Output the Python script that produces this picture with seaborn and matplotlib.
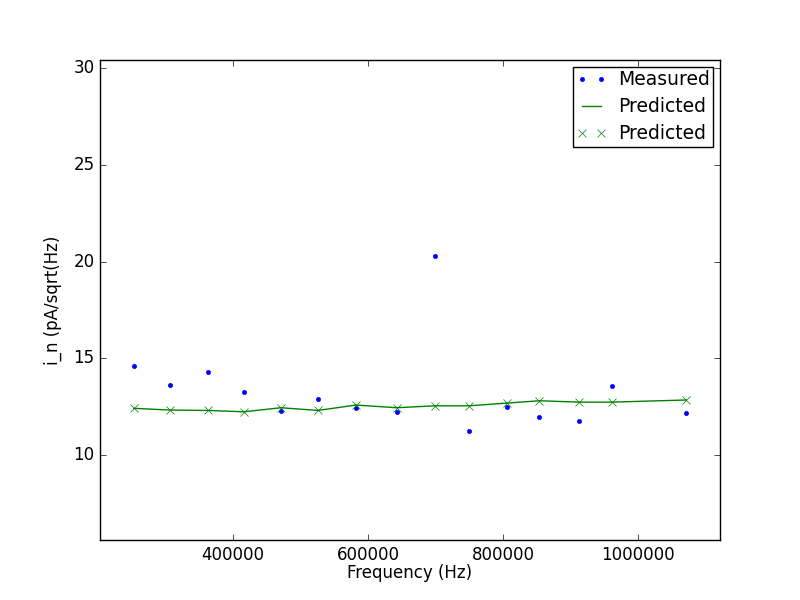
import matplotlib
matplotlib.use("Agg")
import matplotlib.pyplot as plt
import seaborn as sns
import pandas as pd

# valores
freq = [253300, 306700, 363000, 416300, 471100, 525900, 582200, 642500,
        699300, 749600, 805900, 853300, 912600, 961500, 1071100]
measured = [14.59, 13.61, 14.28, 13.25, 12.29, 12.88, 12.42, 12.21,
            20.28, 11.23, 12.47, 11.95, 11.74, 13.56, 12.16]
predicted = [12.42, 12.33, 12.31, 12.24, 12.45, 12.31, 12.59, 12.45,
             12.55, 12.55, 12.69, 12.81, 12.74, 12.74, 12.85]

df = pd.DataFrame({"freq": freq, "measured": measured, "predicted": predicted})

plt.style.use("classic")
fig, ax = plt.subplots(figsize=(8, 6), dpi=100)

sns.lineplot(data=df, x="freq", y="measured", ax=ax, estimator=None,
             color="b", marker=".", linestyle="", markersize=6,
             markeredgecolor="b", markeredgewidth=0.5, label="Measured")
sns.lineplot(data=df, x="freq", y="predicted", ax=ax, estimator=None,
             color="g", linestyle="-", label="Predicted")
sns.lineplot(data=df, x="freq", y="predicted", ax=ax, estimator=None,
             color="g", marker="x", linestyle="", markersize=6,
             markeredgecolor="g", markeredgewidth=0.5, label="Predicted")

ax.set_xlim(df["freq"].min() - 50000, df["freq"].max() + 50000)
ax.set_ylim(0.5 * df["measured"].min(), 1.5 * df["measured"].max())
ax.set_xticks([400000, 600000, 800000, 1000000])
ax.set_yticks([10, 15, 20, 25, 30])
ax.ticklabel_format(axis="x", style="plain", useOffset=False)
ax.set_xlabel("Frequency (Hz)", labelpad=0)
ax.set_ylabel("i_n (pA/sqrt(Hz)", labelpad=8)
ax.legend(loc="upper right", numpoints=2, fontsize=13.5,
          handlelength=1.6, handletextpad=0.6, borderaxespad=0.35,
          borderpad=0.2, labelspacing=0.42)

fig.savefig("out.png", dpi=100)
